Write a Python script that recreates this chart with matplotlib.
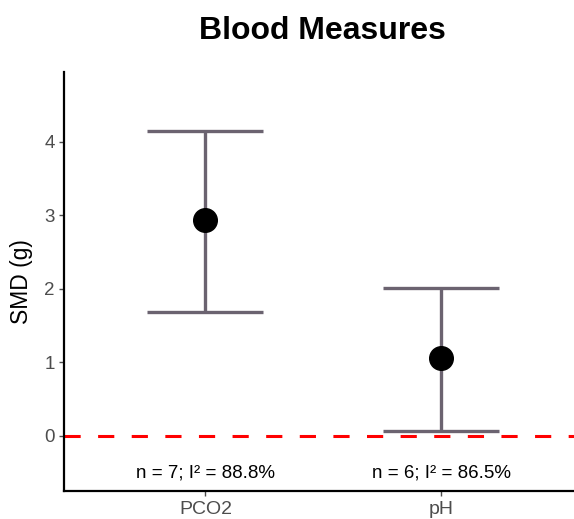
import matplotlib.pyplot as plt

plt.rcParams['font.family'] = ['Liberation Sans', 'DejaVu Sans']

# data
outcomes = ['PCO2', 'pH']
smd = [2.93, 1.06]
ci_low = [1.69, 0.07]
ci_high = [4.15, 2.01]
notes = ['n = 7; I² = 88.8%', 'n = 6; I² = 86.5%']

fig = plt.figure(figsize=(5.74, 5.19), dpi=100)
ax = fig.add_axes([64 / 574, 28 / 519, (582.6 - 64) / 574, 419 / 519])

pos = list(range(1, len(outcomes) + 1))
err = [[m - lo for m, lo in zip(smd, ci_low)], [hi - m for m, hi in zip(smd, ci_high)]]

ax.axhline(0, color='#ff0000', lw=2.2, dashes=(5.3, 5.7), zorder=1)
ax.errorbar(pos, smd, yerr=err, fmt='none', ecolor='#6b6370', elinewidth=2.4,
            capsize=42, capthick=2.4, zorder=2)
ax.plot(pos, smd, 'o', color='black', ms=17, zorder=3)

for p, t in zip(pos, notes):
    ax.text(p, -0.5, t, ha='center', va='center', fontsize=13.5, color='black')

ax.set_xlim(0.4, 2.6)
ax.set_ylim(-0.75, 4.95)
ax.set_xticks(pos)
ax.set_xticklabels(outcomes)
ax.set_yticks([0, 1, 2, 3, 4])
ax.tick_params(colors='#4d4d4d', length=3.5, width=1)
ax.tick_params(axis='x', labelsize=14, pad=3.5)
ax.tick_params(axis='y', labelsize=13.5, pad=3)
ax.set_ylabel('SMD (g)', fontsize=16.5)
ax.yaxis.set_label_coords(-0.06, 0.5)

for s in ['top', 'right']:
    ax.spines[s].set_visible(False)
for s in ['left', 'bottom']:
    ax.spines[s].set_linewidth(1.6)
    ax.spines[s].set_color('black')

fig.text(0.562, 1 - 39 / 519, 'Blood Measures', fontsize=23, fontweight='bold',
         ha='center', va='baseline')

fig.savefig('out.png', dpi=100)
